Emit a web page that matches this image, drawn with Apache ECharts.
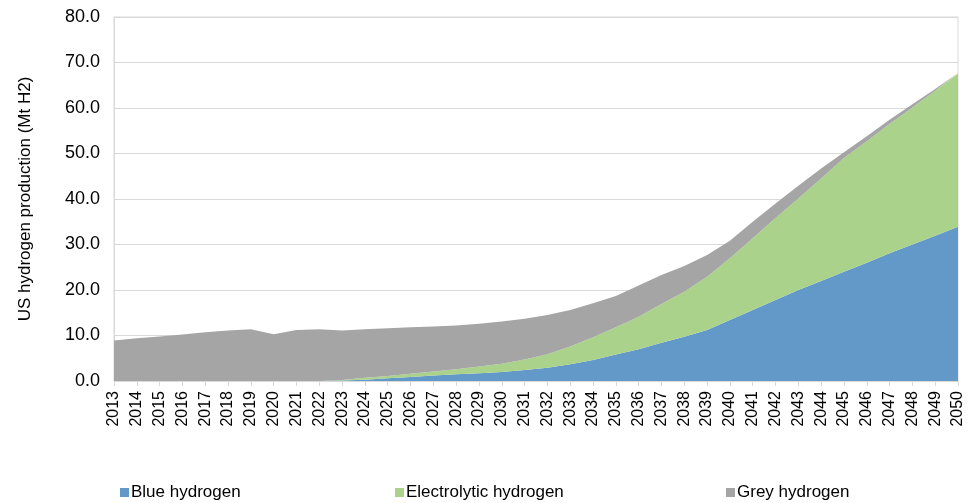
<!DOCTYPE html>
<html><head><meta charset="utf-8">
<script src="https://cdn.jsdelivr.net/npm/echarts@6/dist/echarts.min.js"></script>
<style>html,body{margin:0;padding:0;background:#fff}#c{width:968px;height:503px}</style>
</head><body><div id="c"></div>
<script>
const years = [];
for (let y = 2013; y <= 2050; y++) years.push(String(y));
const blue = [0,0,0,0,0,0,0,0,0,0,0.1,0.3,0.6,0.9,1.2,1.5,1.7,2.0,2.4,2.9,3.7,4.6,5.8,7.0,8.4,9.7,11.2,13.4,15.6,17.8,20.0,22.0,24.0,26.0,28.1,30.0,31.9,33.9];
const electrolytic = [0,0,0,0,0,0,0,0,0,0,0.1,0.4,0.5,0.7,0.9,1.1,1.5,1.8,2.3,3.0,3.9,5.0,6.0,7.1,8.5,9.9,11.7,13.6,15.8,18.0,20.1,22.5,25.0,26.7,28.4,30.1,31.9,33.7];
const grey = [8.9,9.4,9.8,10.2,10.7,11.1,11.4,10.3,11.2,11.4,10.9,10.7,10.5,10.2,9.9,9.6,9.4,9.3,9.0,8.6,8.0,7.5,6.9,6.9,6.4,5.7,4.8,3.8,3.6,3.2,2.8,2.2,1.3,1.1,0.9,0.7,0.4,0.1];
const yTitle = 'US hydrogen production (Mt H2)';
const names = ['Blue hydrogen','Electrolytic hydrogen','Grey hydrogen'];
const colors = ['#6399C8','#ABD28A','#A5A5A5'];
const font = 'Liberation Sans, Arial, sans-serif';

const chart = echarts.init(document.getElementById('c'));
function mk(name, data, color){
  return {name, type:'line', stack:'t', data, symbol:'none', showSymbol:false,
    lineStyle:{width:0, color}, itemStyle:{color}, areaStyle:{color, opacity:1}};
}
const legendBase = {top:479, itemWidth:9, itemHeight:9, itemGap:4, icon:'rect',
  textStyle:{fontFamily:font, fontSize:17, lineHeight:17, color:'#000', padding:[0,0,0,-3]}};
chart.setOption({
  animation:false,
  textStyle:{fontFamily:font},
  grid:{left:114, right:10, top:17, bottom:122, show:true, borderColor:'#D9D9D9', borderWidth:1},
  legend:[
    Object.assign({}, legendBase, {left:115, data:[names[0]]}),
    Object.assign({}, legendBase, {left:390, data:[names[1]]}),
    Object.assign({}, legendBase, {left:721, data:[names[2]]})
  ],
  xAxis:{type:'category', data:years, boundaryGap:false,
    axisLine:{lineStyle:{color:'#D9D9D9'}},
    axisTick:{show:true, length:5, lineStyle:{color:'#D9D9D9'}, alignWithLabel:true},
    axisLabel:{rotate:90, interval:0, fontSize:16, color:'#000', fontFamily:font, margin:10}},
  yAxis:{type:'value', min:0, max:80, interval:10,
    name:yTitle, nameLocation:'middle', nameGap:80, nameRotate:90,
    nameTextStyle:{fontSize:17, color:'#000', fontFamily:font},
    axisLine:{show:true, lineStyle:{color:'#D9D9D9'}},
    splitLine:{lineStyle:{color:'#D9D9D9'}},
    axisLabel:{formatter:v=>v.toFixed(1), fontSize:18, color:'#000', fontFamily:font, margin:14}},
  series:[mk(names[0], blue, colors[0]), mk(names[1], electrolytic, colors[1]), mk(names[2], grey, colors[2])]
});
</script></body></html>
